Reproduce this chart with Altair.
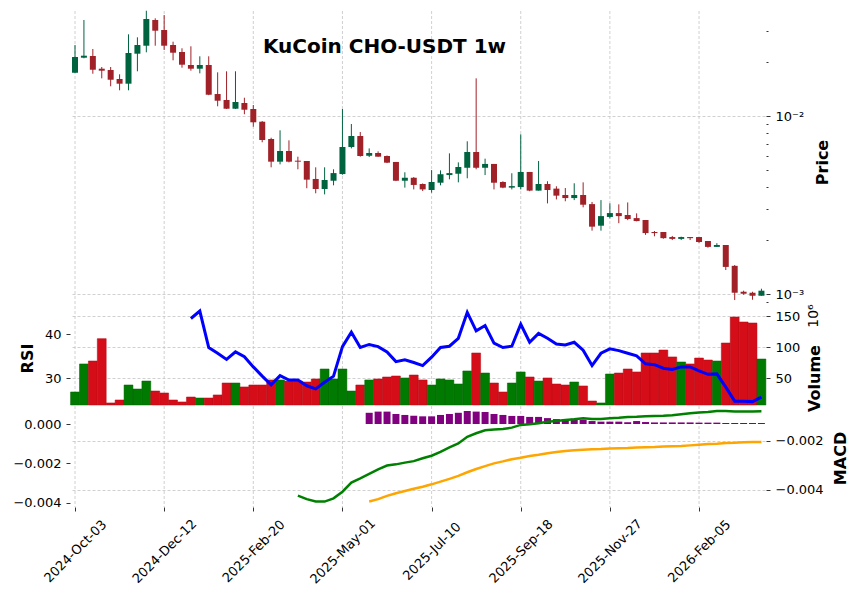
import altair as alt
import pandas as pd

# ---------------- data (prices in units of 1e-3 USDT, volume in millions) ----------------
n_candles = 78
start_date = "2024-10-03"
tick_index = [0, 10, 20, 30, 40, 50, 60, 70]
tick_labels = ["2024-Oct-03", "2024-Dec-12", "2025-Feb-20", "2025-May-01",
               "2025-Jul-10", "2025-Sep-18", "2025-Nov-27", "2026-Feb-05"]

opens = [17.50, 21.26, 21.74, 18.44, 18.13, 16.14, 15.19, 22.39, 24.83, 34.62,
         30.42, 25.05, 22.89, 19.35, 18.44, 19.35, 13.29, 12.30, 10.99, 11.83,
         10.95, 9.29, 7.43, 5.54, 6.36, 5.61, 5.59, 4.43, 3.89, 4.33,
         4.72, 6.70, 7.72, 5.98, 6.20, 5.96, 5.52, 4.33, 4.50, 4.15,
         3.84, 4.22, 4.66, 4.74, 5.12, 6.28, 5.12, 5.38, 4.26, 3.96,
         3.99, 4.85, 3.81, 4.15, 3.91, 3.60, 3.46, 3.60, 3.20, 2.42,
         2.71, 2.85, 2.78, 2.67, 2.605, 2.23, 2.23, 2.09, 2.04, 2.09,
         2.09, 1.985, 1.84, 1.885, 1.44, 1.030, 1.017, 0.978]
highs = [25.05, 34.62, 23.80, 18.85, 18.85, 17.15, 28.77, 27.68, 39.04, 35.39,
         36.93, 26.15, 24.01, 24.64, 21.65, 21.65, 17.60, 17.83, 17.83, 12.67,
         11.53, 9.37, 7.55, 8.31, 7.30, 5.91, 5.59, 5.15, 5.15, 5.02,
         10.95, 9.02, 8.13, 6.58, 6.33, 6.00, 5.52, 4.83, 4.54, 4.18,
         4.97, 4.95, 6.17, 5.49, 7.21, 16.28, 5.76, 5.38, 4.30, 4.77,
         7.89, 4.85, 5.59, 4.30, 4.03, 3.94, 4.19, 4.24, 3.29, 3.37,
         3.23, 3.19, 3.27, 2.84, 2.605, 2.26, 2.23, 2.12, 2.10, 2.09,
         2.09, 1.985, 1.93, 1.885, 1.455, 1.044, 1.030, 1.071]
lows = [17.43, 21.10, 17.28, 16.28, 14.69, 13.95, 13.95, 17.83, 22.80, 24.83,
        23.49, 20.56, 18.68, 17.97, 17.37, 13.10, 11.34, 10.95, 10.95, 10.23,
        8.71, 7.12, 5.15, 5.35, 5.49, 5.02, 3.93, 3.68, 3.63, 4.08,
        4.68, 6.58, 5.91, 5.88, 5.91, 5.44, 4.31, 3.96, 3.87, 3.79,
        3.71, 4.08, 4.41, 4.24, 4.47, 5.02, 4.66, 3.87, 3.93, 3.87,
        3.87, 3.78, 3.81, 3.23, 3.40, 3.32, 3.37, 3.07, 2.27, 2.27,
        2.66, 2.50, 2.60, 2.56, 2.15, 2.11, 2.045, 2.01, 2.01, 2.01,
        1.94, 1.82, 1.84, 1.364, 0.925, 0.991, 0.929, 0.978]
closes = [21.45, 21.82, 18.20, 17.97, 15.99, 15.19, 22.60, 25.05, 35.07, 30.15,
          24.83, 22.68, 19.42, 18.44, 19.35, 13.17, 12.19, 10.99, 11.99, 10.85,
          9.22, 7.33, 5.54, 6.36, 5.54, 5.54, 4.39, 3.89, 4.37, 4.78,
          6.70, 7.72, 5.96, 6.20, 5.91, 5.47, 4.33, 4.50, 4.10, 3.87,
          4.26, 4.71, 4.78, 5.17, 6.28, 5.12, 5.38, 4.22, 3.96, 4.04,
          4.85, 3.81, 4.15, 3.84, 3.57, 3.46, 3.60, 3.175, 2.39, 2.74,
          2.85, 2.74, 2.64, 2.57, 2.20, 2.20, 2.06, 2.04, 2.09, 2.06,
          1.96, 1.84, 1.885, 1.42, 1.017, 1.004, 0.978, 1.044]
volumes_m = [27.9, 73.1, 77.9, 113.9, 10.2, 15.0, 39.2, 32.7, 45.6, 29.5,
             26.3, 15.0, 11.8, 19.8, 18.2, 18.2, 23.1, 42.4, 42.4, 36.0,
             39.2, 39.2, 47.3, 47.3, 45.6, 45.6, 44.0, 48.9, 65.0, 48.9,
             65.0, 29.5, 39.2, 47.3, 48.9, 52.1, 53.7, 50.5, 55.3, 47.3,
             39.2, 48.9, 47.3, 40.8, 61.8, 90.8, 58.5, 42.4, 27.9, 42.4,
             60.2, 52.1, 45.6, 50.5, 40.8, 39.2, 44.0, 37.6, 13.4, 10.2,
             56.9, 58.5, 65.0, 60.2, 90.8, 90.8, 95.6, 84.4, 76.3, 73.1,
             82.7, 79.5, 77.9, 106.9, 148.9, 140.8, 139.2, 81.1]

rsi_start = 13
rsi_vals = [43.6, 45.3, 37.0, 35.7, 34.3, 36.0, 34.9, 32.6, 30.5, 28.5,
            30.6, 29.6, 29.6, 28.3, 27.6, 29.1, 30.5, 37.2, 40.5, 37.0,
            37.7, 37.2, 36.0, 33.8, 34.2, 33.6, 32.9, 34.8, 37.0, 37.3,
            39.1, 45.0, 40.8, 42.0, 38.0, 37.0, 37.3, 42.3, 38.2, 40.2,
            39.1, 37.8, 37.6, 38.2, 36.4, 32.9, 35.7, 36.7, 36.3, 35.7,
            35.1, 33.3, 33.1, 32.3, 32.0, 32.6, 32.6, 31.7, 30.9, 31.0,
            28.0, 24.8, 24.8, 24.7, 25.7]

macd_start = 25
macd_vals = [-0.00423, -0.00437, -0.00447, -0.00447, -0.00434, -0.00407, -0.00370, -0.00353,
             -0.00335, -0.00316, -0.00301, -0.00296, -0.00289, -0.00283, -0.00271, -0.00261,
             -0.00245, -0.00227, -0.00211, -0.00184, -0.00170, -0.00158, -0.00155, -0.00153,
             -0.00147, -0.00136, -0.00133, -0.00129, -0.00123, -0.00120, -0.00116, -0.00113,
             -0.00109, -0.00112, -0.00112, -0.00109, -0.00107, -0.00104, -0.00103, -0.00101,
             -0.00100, -0.00099, -0.00097, -0.00093, -0.00089, -0.00086, -0.00084, -0.00080,
             -0.00080, -0.00082, -0.00082, -0.00082, -0.00081]

signal_start = 33
signal_vals = [-0.00447, -0.00437, -0.00424, -0.00413, -0.00404, -0.00395, -0.00387, -0.00377,
               -0.00366, -0.00355, -0.00343, -0.00328, -0.00315, -0.00303, -0.00292, -0.00284,
               -0.00275, -0.00269, -0.00262, -0.00257, -0.00251, -0.00246, -0.00242, -0.00239,
               -0.00237, -0.00235, -0.00234, -0.00232, -0.00231, -0.00230, -0.00228, -0.00227,
               -0.00226, -0.00224, -0.00223, -0.00222, -0.00219, -0.00216, -0.00213, -0.00212,
               -0.00209, -0.00208, -0.00206, -0.00205, -0.00205]
hist_vals = [0.00057, 0.00063, 0.00063, 0.00051, 0.00046, 0.00042, 0.00039, 0.00039,
             0.00046, 0.00051, 0.00057, 0.00066, 0.00063, 0.00061, 0.00051, 0.00046,
             0.00041, 0.00041, 0.00036, 0.00036, 0.00030, 0.00025, 0.00025, 0.00027,
             0.00022, 0.00015, 0.00012, 0.00012, 0.00012, 0.00009, 0.00015, 0.00010,
             0.00008, 0.00008, 0.00008, 0.00008, 0.00008, 0.00007, 0.00007, 0.00007,
             0.00005, 0.00005, 0.00005, 0.00005, 0.00005]

# ---------------- tables ----------------
dates = pd.date_range(start_date, periods=n_candles, freq="7D")
df = pd.DataFrame({
    "i": list(range(n_candles)),
    "date": dates,
    "open": [v * 1e-3 for v in opens],
    "high": [v * 1e-3 for v in highs],
    "low": [v * 1e-3 for v in lows],
    "close": [v * 1e-3 for v in closes],
    "volume": volumes_m,
})
df["dir"] = ["up" if c >= o else "down" for o, c in zip(opens, closes)]

rsi_df = pd.DataFrame({"i": list(range(rsi_start, rsi_start + len(rsi_vals))), "rsi": rsi_vals})
macd_df = pd.DataFrame({"i": list(range(macd_start, macd_start + len(macd_vals))), "macd": macd_vals})
sig_df = pd.DataFrame({"i": list(range(signal_start, signal_start + len(signal_vals))),
                       "signal": signal_vals, "hist": hist_vals})
tick_df = pd.DataFrame({"i": tick_index})

# ---------------- layout constants ----------------
W, H = 694, 496
PRICE_RANGE = [293, 0]
VOL_RANGE = [394, 293]
MACD_RANGE = [496, 394]
GRID_COLOR = "#c4c4c4"
GRID_DASH = [3, 2]
GRID = dict(gridColor=GRID_COLOR, gridDash=GRID_DASH, gridWidth=0.8)

label_arr = "[" + ",".join("'%s'" % s for s in tick_labels) + "]"
X_SCALE = alt.Scale(domain=[-0.45, 77.4], nice=False, zero=False, padding=0)
X_AXIS = alt.Axis(values=tick_index, labelExpr=label_arr + "[round(datum.value/10)]",
                  labelAngle=-45, labelAlign="center", labelBaseline="middle",
                  labelPadding=40, tickSize=4, grid=False, title=None,
                  labelOverlap=False, labelFlush=False, labelBound=False)


def xenc():
    return alt.X("i:Q", scale=X_SCALE, axis=X_AXIS)


up_color = "#006340"
down_color = "#a02128"
candle_color = alt.condition("datum.dir == 'up'", alt.value(up_color), alt.value(down_color))

# vertical grid lines through all three panels
xgrid = alt.Chart(tick_df).mark_rule(color=GRID_COLOR, strokeDash=GRID_DASH, strokeWidth=0.8).encode(
    x=xenc(), y=alt.value(0), y2=alt.value(H)
)

PRICE_SCALE = alt.Scale(type="log", domain=[0.000879, 0.0389], range=PRICE_RANGE, nice=False)
minor_vals = [0.0009, 0.002, 0.003, 0.004, 0.005, 0.006, 0.007, 0.008, 0.009, 0.02, 0.03]

wicks = alt.Chart(df).mark_rule(strokeWidth=1).encode(
    x=xenc(),
    y=alt.Y("low:Q", scale=PRICE_SCALE,
            axis=alt.Axis(orient="right", values=minor_vals, labels=False, tickSize=2,
                          grid=False, title=None, offset=1)),
    y2="high:Q",
    color=candle_color,
)

bodies = alt.Chart(df).mark_bar(size=6).encode(
    x=xenc(),
    y=alt.Y("open:Q", scale=PRICE_SCALE,
            axis=alt.Axis(orient="right", values=[0.001, 0.01],
                          labelExpr="datum.value > 0.005 ? '10⁻²' : '10⁻³'",
                          tickSize=4, labelPadding=5, offset=1, grid=True, title="Price",
                          titleAngle=270, titleAlign="center", titleBaseline="middle",
                          titleX=56, titleY=151, **GRID)),
    y2="close:Q",
    color=candle_color,
)

vol = alt.Chart(df).mark_bar(size=8.9, strokeWidth=0.5).encode(
    x=xenc(),
    y=alt.Y("volume:Q",
            scale=alt.Scale(domain=[6.9, 169.8], range=VOL_RANGE, clamp=True, nice=False, zero=False),
            axis=alt.Axis(orient="right", values=[50, 100, 150], tickSize=4, labelPadding=5,
                          offset=1, grid=True, title="Volume", titleAngle=270,
                          titleAlign="center", titleBaseline="middle",
                          titleX=48, titleY=367, **GRID)),
    y2=alt.datum(0),
    color=alt.condition("datum.dir == 'up'", alt.value("#007a00"), alt.value("#d50d18")),
    stroke=alt.condition("datum.dir == 'up'", alt.value("#006400"), alt.value("#b00a14")),
)

rsi = alt.Chart(rsi_df).mark_line(color="#0000ff", strokeWidth=3).encode(
    x=xenc(),
    y=alt.Y("rsi:Q",
            scale=alt.Scale(domain=[23.93, 46.9], range=VOL_RANGE, nice=False, zero=False),
            axis=alt.Axis(orient="left", values=[30, 40], tickSize=4, labelPadding=5,
                          offset=1, grid=False, title="RSI", titleAngle=270,
                          titleAlign="center", titleBaseline="middle",
                          titleX=-43, titleY=347)),
)

hist = alt.Chart(sig_df).mark_bar(size=7, color="#800080").encode(
    x=xenc(),
    y=alt.Y("hist:Q",
            scale=alt.Scale(domain=[-0.004219, 0.000966], range=MACD_RANGE, nice=False, zero=False),
            axis=alt.Axis(orient="left", values=[0, -0.002, -0.004], format=".3f",
                          tickSize=4, labelPadding=5, offset=1, grid=False, title=None)),
    y2=alt.datum(0),
)

MACD_SCALE = alt.Scale(domain=[-0.00469, -0.000552], range=MACD_RANGE, nice=False, zero=False)

macd_line = alt.Chart(macd_df).mark_line(color="#008000", strokeWidth=2.5).encode(
    x=xenc(),
    y=alt.Y("macd:Q", scale=MACD_SCALE,
            axis=alt.Axis(orient="right", values=[-0.002, -0.004], format=".3f",
                          tickSize=4, labelPadding=5, offset=1, grid=True, title="MACD",
                          titleAngle=270, titleAlign="center", titleBaseline="middle",
                          titleX=74, titleY=447, **GRID)),
)

signal_line = alt.Chart(sig_df).mark_line(color="#ffa500", strokeWidth=2.5).encode(
    x=xenc(),
    y=alt.Y("signal:Q", scale=MACD_SCALE, axis=None),
)

title_txt = alt.Chart(pd.DataFrame({"t": ["KuCoin CHO-USDT 1w"]})).mark_text(
    fontSize=20, fontWeight="bold", color="black", align="center", baseline="middle",
    font="DejaVu Sans"
).encode(x=alt.value(313.5), y=alt.value(36), text="t:N")

exp_txt = alt.Chart(pd.DataFrame({"t": ["10⁶"]})).mark_text(
    fontSize=14, color="black", align="center", baseline="middle", angle=270,
    font="DejaVu Sans"
).encode(x=alt.value(743), y=alt.value(305), text="t:N")

chart = alt.layer(
    xgrid, wicks, bodies, vol, rsi, hist, macd_line, signal_line, title_txt, exp_txt
).resolve_scale(
    y="independent"
).properties(
    width=W, height=H,
    autosize=alt.AutoSizeParams(type="none"),
    padding={"left": 71, "top": 11, "right": 859 - 71 - W, "bottom": 600 - 11 - H},
    background="white",
).configure_view(
    stroke=None
).configure_axis(
    labelFont="DejaVu Sans", labelFontSize=13, labelColor="black",
    tickColor="black", tickWidth=0.8, domain=False,
    titleFont="DejaVu Sans", titleFontSize=16, titleFontWeight="bold", titleColor="black",
)

chart.save("out.html", embed_options={"renderer": "svg", "actions": False})
